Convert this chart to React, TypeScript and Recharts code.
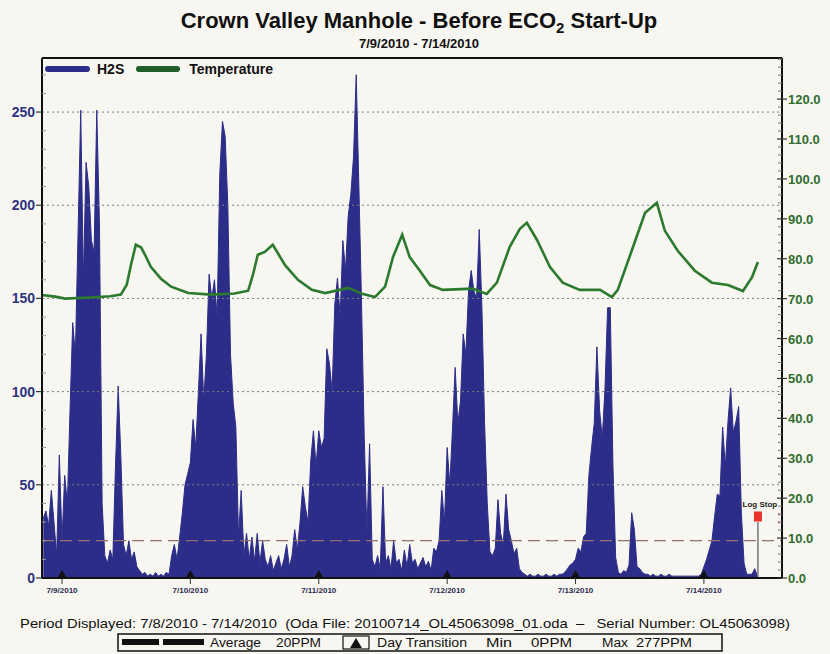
import React from "react";
import {
  ComposedChart,
  Area,
  Line,
  XAxis,
  YAxis,
  ReferenceLine,
  ReferenceDot,
} from "recharts";

// hours are counted from 7/9/2010 00:00
const dayStarts = [0, 24, 48, 72, 96, 120];
const dayLabels = ["7/9/2010", "7/10/2010", "7/11/2010", "7/12/2010", "7/13/2010", "7/14/2010"];

// H2S in ppm, one reading every half hour
const h2sJul8 = [32, 36, 28, 47, 30, 12, 66]; // from 20:30
const h2sJul9 = [
  20, 55, 40, 90, 137, 120, 185, 251, 160, 223, 210, 181, 175, 251, 190, 40,
  12, 8, 15, 10, 60, 103, 65, 18, 12, 20, 10, 14, 6, 4, 2, 3,
  1, 2, 1, 3, 1, 2, 1, 3, 2, 12, 18, 10, 22, 35, 50, 56,
];
const h2sJul10 = [
  62, 85, 70, 100, 131, 95, 120, 163, 150, 160, 140, 217, 245, 237, 200, 120,
  94, 81, 22, 47, 12, 24, 10, 22, 9, 24, 8, 20, 10, 6, 12, 4,
  8, 12, 5, 10, 18, 6, 12, 26, 15, 30, 49, 38, 30, 63, 79, 60,
];
const h2sJul11 = [
  79, 70, 75, 123, 115, 100, 147, 161, 140, 181, 165, 194, 206, 226, 270, 210,
  147, 76, 24, 72, 10, 6, 12, 5, 49, 8, 12, 5, 20, 8, 10, 4,
  15, 6, 18, 8, 10, 5, 8, 11, 6, 9, 4, 16, 14, 20, 47, 30,
];
const h2sJul12 = [
  70, 50, 80, 113, 83, 95, 131, 120, 154, 165, 154, 150, 187, 145, 83, 40,
  14, 12, 16, 42, 24, 18, 45, 26, 20, 13, 16, 5, 3, 2, 1, 2,
  1, 1, 2, 1, 1, 2, 1, 1, 2, 1, 2, 2, 3, 5, 7, 8,
];
const h2sJul13 = [
  10, 16, 14, 22, 24, 55, 70, 83, 124, 90, 75, 101, 145, 145, 60, 11,
  3, 2, 4, 3, 7, 35, 26, 6, 5, 3, 2, 2, 1, 2, 1, 1,
  2, 1, 1, 2, 1, 1, 1, 1, 1, 1, 1, 1, 1, 1, 1, 2,
];
const h2sJul14 = [6, 10, 15, 20, 33, 45, 44, 81, 60, 84, 102, 78, 84, 92, 35, 8, 2, 2, 2, 5, 1];

// temperature (°F)
const tempHours = [
  -3.7, -1.3, 0.6, 5.2, 9.0, 11.0, 12.1, 12.9, 13.8, 14.8, 15.7, 16.6, 18.5, 20.4, 23.6,
  27.9, 32.3, 34.8, 35.7, 36.6, 37.9, 39.4, 41.7, 44.1, 46.7, 49.2, 53.5, 56.1, 58.5,
  60.4, 61.9, 63.6, 65.0, 66.9, 68.8, 71.2, 76.8, 79.4, 81.3, 83.7, 85.6, 86.9, 88.8,
  91.2, 93.6, 96.8, 100.6, 102.8, 103.9, 106.5, 109.0, 111.2, 112.7, 115.1, 118.3,
  121.5, 124.5, 127.3, 129.0, 130.1,
];
const tempValues = [
  70.9, 70.5, 70.0, 70.3, 70.6, 71.0, 73.5, 78.5, 83.5, 82.8, 80.5, 78.0, 75.0, 73.0, 71.4,
  71.0, 71.3, 72.0, 76.0, 81.0, 81.7, 83.5, 78.4, 74.7, 72.2, 71.4, 72.7, 71.2, 70.4,
  73.0, 80.5, 86.0, 80.4, 77.0, 73.4, 72.2, 72.5, 71.2, 74.0, 83.0, 87.5, 89.0, 84.7,
  78.0, 74.0, 72.2, 72.2, 70.4, 72.2, 82.0, 91.5, 94.0, 87.0, 82.0, 77.0,
  74.0, 73.4, 71.9, 75.4, 79.2,
];

const gridLevels = [50, 100, 150, 200, 250];
const averagePpm = 20;
const logStopHour = 130.1;

const h2sBlocks: [number, number[]][] = [
  [-3.5, h2sJul8],
  [0, h2sJul9],
  [24, h2sJul10],
  [48, h2sJul11],
  [72, h2sJul12],
  [96, h2sJul13],
  [120, h2sJul14],
];

const rows: { h: number; h2s?: number; temp?: number }[] = [];
h2sBlocks.forEach(([start, vals]) => {
  vals.forEach((v, i) => rows.push({ h: start + i * 0.5, h2s: v }));
});
tempHours.forEach((h, i) => rows.push({ h, temp: tempValues[i] }));
rows.sort((a, b) => a.h - b.h);

const leftTicks: number[] = [];
for (let v = 0; v <= 270; v += 10) leftTicks.push(v);
const rightTicks: number[] = [];
for (let v = 0; v <= 130; v += 2) rightTicks.push(v);

const NAVY = "#2c2d88";
const GREEN = "#2b7a2e";
const FONT = '"Liberation Sans", Arial, sans-serif';

function H2sTick({ x, y, payload }: any) {
  const v = payload.value;
  if (v % 50 === 0) {
    return (
      <g>
        <line x1={x - 6} x2={x} y1={y} y2={y} stroke="#333" strokeWidth={1.2} />
        <text x={x - 7} y={y + 5} textAnchor="end" fontSize={14} fontWeight="bold" fill="#2e3282" fontFamily={FONT}>
          {v}
        </text>
      </g>
    );
  }
  return <line x1={x} x2={x + 4} y1={y} y2={y} stroke="#9a9a9a" strokeWidth={1} />;
}

function TempTick({ x, y, payload }: any) {
  const v = payload.value;
  if (v % 10 === 0 && v <= 120) {
    return (
      <g>
        <line x1={x - 5} x2={x + 5} y1={y} y2={y} stroke="#333" strokeWidth={1.2} />
        <text x={x + 6} y={y + 5} textAnchor="start" fontSize={13} fontWeight="bold" fill="#2f6d2f" fontFamily={FONT}>
          {v.toFixed(1)}
        </text>
      </g>
    );
  }
  return <line x1={x - 4} x2={x} y1={y} y2={y} stroke="#777" strokeWidth={1} />;
}

function DayTick({ x, y, payload }: any) {
  const i = dayStarts.indexOf(payload.value);
  return (
    <g>
      <line x1={x} x2={x} y1={y} y2={y + 6} stroke="#333" strokeWidth={1} />
      <text x={x} y={y + 15} textAnchor="middle" fontSize={8} fontWeight="bold" fill="#2a2a50" fontFamily={FONT}>
        {dayLabels[i]}
      </text>
    </g>
  );
}

function DayMarker({ cx, cy }: any) {
  return <path d={`M${cx - 4},${cy - 1} L${cx + 4},${cy - 1} L${cx},${cy - 8} Z`} fill="#111" />;
}

function LogStopMark({ cx, cy }: any) {
  return (
    <g>
      <rect x={cx - 4} y={cy - 5} width={8} height={10} fill="#e8322a" />
      <text x={cx + 2} y={cy - 9} textAnchor="middle" fontSize={8} fontWeight="bold" fill="#222" fontFamily={FONT}>
        Log Stop
      </text>
      <line x1={cx + 20} x2={cx + 22} y1={cy - 2} y2={cy - 2} stroke="#e8322a" strokeWidth={1.5} />
      <line x1={cx + 20} x2={cx + 22} y1={cy + 6} y2={cy + 6} stroke="#e8322a" strokeWidth={1.5} />
    </g>
  );
}

export default function App() {
  return (
    <div
      style={{
        position: "absolute",
        left: 0,
        top: 0,
        width: 830,
        height: 654,
        background: "#f8f6f0",
        fontFamily: FONT,
        overflow: "hidden",
      }}
    >
      <ComposedChart width={830} height={600} data={rows} margin={{ top: 58, right: 0, bottom: 0, left: 0 }}>
        <XAxis
          dataKey="h"
          type="number"
          domain={[-3.74, 134.6]}
          allowDataOverflow
          ticks={dayStarts}
          interval={0}
          tickSize={0}
          tickMargin={0}
          height={22}
          tick={DayTick}
          axisLine={{ stroke: "#111", strokeWidth: 2 }}
          tickLine={false}
        />
        <YAxis
          yAxisId="left"
          orientation="left"
          domain={[0, 279]}
          allowDataOverflow
          ticks={leftTicks}
          interval={0}
          width={42}
          tickSize={0}
          tickMargin={0}
          tick={H2sTick}
          axisLine={{ stroke: "#111", strokeWidth: 2 }}
          tickLine={false}
        />
        <YAxis
          yAxisId="right"
          orientation="right"
          domain={[0, 130.3]}
          allowDataOverflow
          ticks={rightTicks}
          interval={0}
          width={48}
          tickSize={0}
          tickMargin={0}
          tick={TempTick}
          axisLine={{ stroke: "#111", strokeWidth: 2 }}
          tickLine={false}
        />
        {gridLevels.map((g) => (
          <ReferenceLine key={g} yAxisId="left" y={g} stroke="#7d7d7d" strokeDasharray="2 3" strokeWidth={1} />
        ))}
        <Area
          yAxisId="left"
          dataKey="h2s"
          type="linear"
          stroke={NAVY}
          strokeWidth={1}
          fill={NAVY}
          fillOpacity={1}
          connectNulls
          dot={false}
          activeDot={false}
          isAnimationActive={false}
        />
        <ReferenceLine yAxisId="left" y={averagePpm} stroke="#94706f" strokeDasharray="12 6" strokeWidth={1.2} />
        <Line
          yAxisId="right"
          dataKey="temp"
          type="linear"
          stroke={GREEN}
          strokeWidth={2.6}
          connectNulls
          dot={false}
          activeDot={false}
          isAnimationActive={false}
        />
        <ReferenceLine yAxisId="left" y={279} stroke="#111" strokeWidth={2} />
        <ReferenceLine
          yAxisId="left"
          segment={[
            { x: logStopHour, y: 0 },
            { x: logStopHour, y: 30 },
          ]}
          stroke="#777"
          strokeWidth={1.5}
        />
        <ReferenceDot yAxisId="left" x={logStopHour} y={33} r={4} shape={LogStopMark} />
        {dayStarts.map((d) => (
          <ReferenceDot key={d} yAxisId="left" x={d} y={0} r={4} shape={DayMarker} />
        ))}
      </ComposedChart>

      {/* legend inside the plot */}
      <div style={{ position: "absolute", left: 45, top: 61, height: 16, display: "flex", alignItems: "center", fontSize: 14, fontWeight: "bold", color: "#111" }}>
        <span style={{ display: "inline-block", width: 45, height: 6, background: NAVY, borderRadius: 3, marginRight: 7 }} />
        <span style={{ marginRight: 12 }}>H2S</span>
        <span style={{ display: "inline-block", width: 44, height: 6, background: "#1f5e28", borderRadius: 3, marginRight: 9 }} />
        <span>Temperature</span>
      </div>

      {/* title */}
      <div style={{ position: "absolute", left: 0, top: 9, width: 838, textAlign: "center", fontSize: 22, fontWeight: "bold", lineHeight: "24px", color: "#111" }}>
        Crown Valley Manhole - Before ECO<sub style={{ fontSize: 15, lineHeight: 0 }}>2</sub> Start-Up
      </div>
      <div style={{ position: "absolute", left: 0, top: 36, width: 838, textAlign: "center", fontSize: 13, fontWeight: "bold", lineHeight: "15px", color: "#111" }}>
        7/9/2010 - 7/14/2010
      </div>

      {/* footer */}
      <svg width={830} height={54} style={{ position: "absolute", left: 0, top: 600 }}>
        <text x={20} y={28} fontSize={13} fill="#111" fontFamily={FONT} textLength={770} lengthAdjust="spacingAndGlyphs">
          {"Period Displayed: 7/8/2010 - 7/14/2010\u00a0\u00a0(Oda File: 20100714_OL45063098_01.oda\u00a0\u00a0\u2013\u00a0\u00a0 Serial Number: OL45063098)"}
        </text>
        <rect x={118} y={34} width={604} height={17} fill="none" stroke="#111" strokeWidth={1.5} />
        <rect x={122} y={39} width={37} height={6} fill="#111" />
        <rect x={163} y={39} width={41} height={6} fill="#111" />
        <text x={210} y={47} fontSize={12} fill="#111" fontFamily={FONT} textLength={51} lengthAdjust="spacingAndGlyphs">Average</text>
        <text x={276} y={47} fontSize={12} fill="#111" fontFamily={FONT} textLength={45} lengthAdjust="spacingAndGlyphs">20PPM</text>
        <rect x={343} y={36} width={26} height={13} fill="none" stroke="#111" strokeWidth={1.2} />
        <path d="M350,48 L362,48 L356,38 Z" fill="#111" />
        <text x={377} y={47} fontSize={12} fill="#111" fontFamily={FONT} textLength={90} lengthAdjust="spacingAndGlyphs">Day Transition</text>
        <text x={486} y={47} fontSize={12} fill="#111" fontFamily={FONT} textLength={26} lengthAdjust="spacingAndGlyphs">Min</text>
        <text x={531} y={47} fontSize={12} fill="#111" fontFamily={FONT} textLength={41} lengthAdjust="spacingAndGlyphs">0PPM</text>
        <text x={602} y={47} fontSize={12} fill="#111" fontFamily={FONT} textLength={26} lengthAdjust="spacingAndGlyphs">Max</text>
        <text x={636} y={47} fontSize={12} fill="#111" fontFamily={FONT} textLength={56} lengthAdjust="spacingAndGlyphs">277PPM</text>
      </svg>
    </div>
  );
}
